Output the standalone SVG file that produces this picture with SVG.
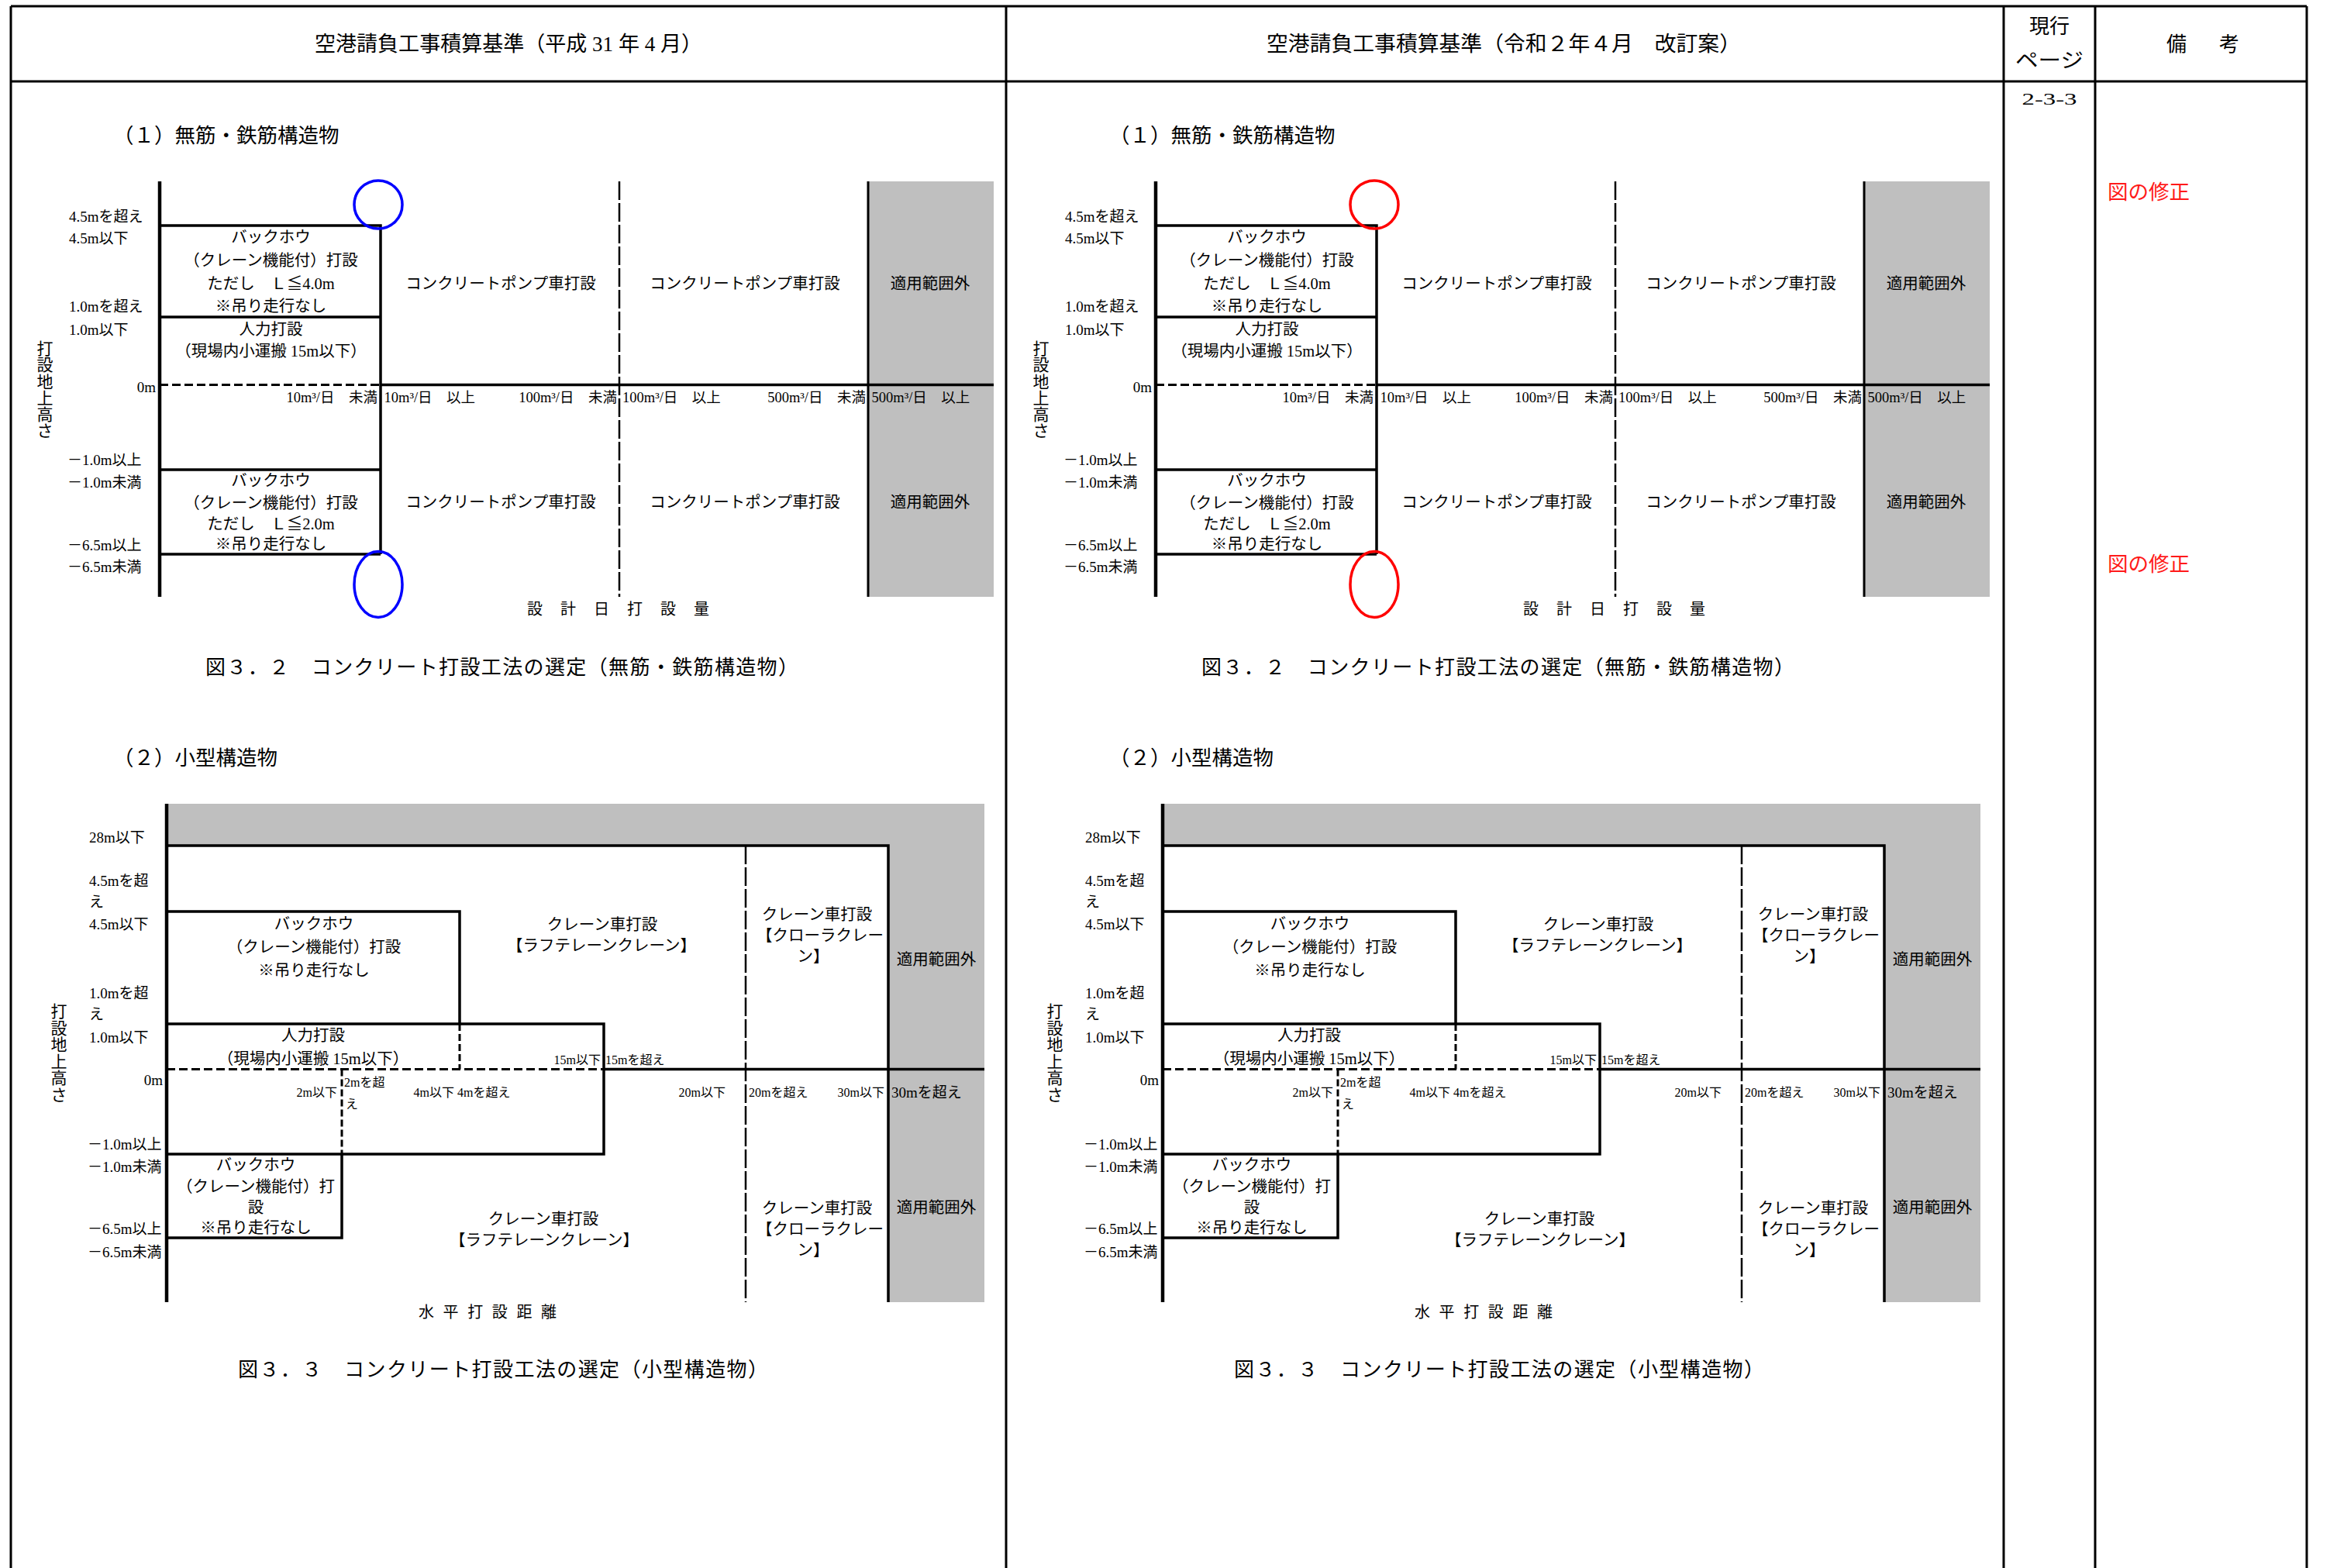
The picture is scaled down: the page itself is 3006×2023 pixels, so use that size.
<svg xmlns="http://www.w3.org/2000/svg" width="3006" height="2023" viewBox="0 0 3006 2023">
<style>
.t{font-family:"Liberation Serif","Noto Sans CJK JP",serif;fill:#000;dominant-baseline:central}
.c{text-anchor:middle}
.e{text-anchor:end}
.tb{stroke:#000;stroke-width:3;fill:none}
.ln{stroke:#000;stroke-width:3.5;fill:none}
.ax{stroke:#000;stroke-width:4.5;fill:none}
.dh{stroke:#000;stroke-width:3;stroke-dasharray:11 5;fill:none}
.dv{stroke:#000;stroke-width:2.5;stroke-dasharray:24 4;fill:none}
.ds{stroke:#000;stroke-width:3;stroke-dasharray:9 4;fill:none}
.gr{fill:#bfbfbf}
.lab{font-size:19px}
.box{font-size:20.5px}
.sm{font-size:18.5px}
.xs{font-size:16px}
.cap{font-size:26px}
.ttl{font-size:26.5px}
.red{fill:#ff1a1a}
.mk{fill:none;stroke-width:3.5}
</style>
<rect width="3006" height="2023" fill="#fff"/>
<g id="table">
<path class="tb" d="M14 8H2976M14 105H2976M14 8V2023M2976 8V2023M1298 8V2023M2585 8V2023M2703 8V2023"/>
<text class="t c" x="656" y="57" font-size="27" textLength="500" lengthAdjust="spacingAndGlyphs">空港請負工事積算基準（平成 31 年 4 月）</text>
<text class="t c" x="1940" y="57" font-size="27" textLength="612" lengthAdjust="spacingAndGlyphs">空港請負工事積算基準（令和２年４月　改訂案）</text>
<text class="t c" x="2644" y="34" font-size="26">現行</text>
<text class="t c" x="2644" y="78" font-size="26" textLength="88" lengthAdjust="spacingAndGlyphs">ページ</text>
<text class="t" x="2795" y="57" font-size="26" letter-spacing="8">備　考</text>
<text class="t c" x="2644" y="127" font-size="22" textLength="71" lengthAdjust="spacingAndGlyphs">2-3-3</text>
<text class="t red" x="2719" y="248" font-size="26.5">図の修正</text>
<text class="t red" x="2719" y="728" font-size="26.5">図の修正</text>
</g>

<g id="fig1-old">
<text class="t ttl" x="146" y="175">（１）無筋・鉄筋構造物</text>
<rect class="gr" x="1120" y="234" width="162" height="536"/>
<g id="fig1-old-lines">
<line class="ax" x1="206" y1="234" x2="206" y2="770"/>
<path class="ln" d="M206 291H491V715M206 409H491M206 606H491M206 715H491M491 496.5H1282"/>
<line class="dh" x1="206" y1="496.5" x2="491" y2="496.5"/>
<line class="dv" x1="799" y1="234" x2="799" y2="770"/>
<line class="tb" x1="1120" y1="234" x2="1120" y2="770"/>
</g>
<g id="fig1-old-axis">
<text class="t lab" x="89" y="279">4.5mを超え</text>
<text class="t lab" x="89" y="307">4.5m以下</text>
<text class="t lab" x="89" y="395">1.0mを超え</text>
<text class="t lab" x="89" y="425">1.0m以下</text>
<text class="t lab e" x="201" y="499">0m</text>
<text class="t lab" x="87" y="593">－1.0m以上</text>
<text class="t lab" x="87" y="622">－1.0m未満</text>
<text class="t lab" x="87" y="703">－6.5m以上</text>
<text class="t lab" x="87" y="731">－6.5m未満</text>
<text class="t c" font-size="21"><tspan x="58" y="450">打</tspan><tspan x="58" y="471">設</tspan><tspan x="58" y="492.5">地</tspan><tspan x="58" y="514">上</tspan><tspan x="58" y="535">高</tspan><tspan x="58" y="556">さ</tspan></text>
</g>
<g id="fig1-old-cells">
<text class="t box c" x="349.5" y="306">バックホウ</text>
<text class="t box c" x="349.5" y="336">（クレーン機能付）打設</text>
<text class="t box c" x="349.5" y="365.5">ただし　Ｌ≦4.0m</text>
<text class="t box c" x="349.5" y="395">※吊り走行なし</text>
<text class="t box c" x="349.5" y="425">人力打設</text>
<text class="t box c" x="349.5" y="453">（現場内小運搬 15m以下）</text>
<text class="t box c" x="349.5" y="620">バックホウ</text>
<text class="t box c" x="349.5" y="649">（クレーン機能付）打設</text>
<text class="t box c" x="349.5" y="675.5">ただし　Ｌ≦2.0m</text>
<text class="t box c" x="349.5" y="702">※吊り走行なし</text>
<text class="t box c" x="646" y="365.5">コンクリートポンプ車打設</text>
<text class="t box c" x="646" y="648">コンクリートポンプ車打設</text>
<text class="t box c" x="961" y="365.5">コンクリートポンプ車打設</text>
<text class="t box c" x="961" y="648">コンクリートポンプ車打設</text>
<text class="t box c" x="1200" y="365.5">適用範囲外</text>
<text class="t box c" x="1200" y="648">適用範囲外</text>
</g>
<g id="fig1-old-scale">
<text class="t sm e" x="487" y="513">10m³/日　未満</text>
<text class="t sm" x="495.5" y="513">10m³/日　以上</text>
<text class="t sm e" x="796" y="513">100m³/日　未満</text>
<text class="t sm" x="803" y="513">100m³/日　以上</text>
<text class="t sm e" x="1117" y="513">500m³/日　未満</text>
<text class="t sm" x="1124.5" y="513">500m³/日　以上</text>
<text class="t" x="680" y="786" font-size="20" letter-spacing="23">設計日打設量</text>
</g>
<ellipse class="mk" cx="488" cy="264" rx="31" ry="31" stroke="#0000ff"/>
<ellipse class="mk" cx="488" cy="754" rx="31" ry="42.5" stroke="#0000ff"/>
<text class="t cap" x="265" y="861" textLength="765" lengthAdjust="spacing">図３．２　コンクリート打設工法の選定（無筋・鉄筋構造物）</text>
</g>

<g id="fig2-old">
<text class="t ttl" x="146" y="978">（２）小型構造物</text>
<rect class="gr" x="215" y="1037" width="1055" height="54"/>
<rect class="gr" x="1146" y="1037" width="124" height="643"/>
<g id="fig2-old-lines">
<line class="ax" x1="215" y1="1037" x2="215" y2="1680"/>
<path class="ln" d="M215 1091H1146V1680M215 1176H593V1321M215 1321H779V1489H215M779 1379.5H1270M441 1489V1597H215"/>
<line class="dh" x1="215" y1="1379.5" x2="779" y2="1379.5"/>
<line class="ds" x1="593" y1="1321" x2="593" y2="1379.5"/>
<line class="ds" x1="441" y1="1379.5" x2="441" y2="1489"/>
<line class="dv" x1="962" y1="1091" x2="962" y2="1680"/>
</g>
<g id="fig2-old-axis">
<text class="t lab" x="115" y="1080">28m以下</text>
<text class="t lab" x="115" y="1136.5">4.5mを超</text>
<text class="t lab" x="115" y="1163">え</text>
<text class="t lab" x="115" y="1192">4.5m以下</text>
<text class="t lab" x="115" y="1281">1.0mを超</text>
<text class="t lab" x="115" y="1308.5">え</text>
<text class="t lab" x="115" y="1338">1.0m以下</text>
<text class="t lab e" x="210" y="1393.5">0m</text>
<text class="t lab" x="113" y="1476">－1.0m以上</text>
<text class="t lab" x="113" y="1505">－1.0m未満</text>
<text class="t lab" x="113" y="1585">－6.5m以上</text>
<text class="t lab" x="113" y="1615">－6.5m未満</text>
<text class="t c" font-size="21"><tspan x="76" y="1305">打</tspan><tspan x="76" y="1326.5">設</tspan><tspan x="76" y="1348">地</tspan><tspan x="76" y="1369.5">上</tspan><tspan x="76" y="1391">高</tspan><tspan x="76" y="1412.5">さ</tspan></text>
</g>
<g id="fig2-old-cells">
<text class="t box c" x="405" y="1192">バックホウ</text>
<text class="t box c" x="405" y="1222">（クレーン機能付）打設</text>
<text class="t box c" x="405" y="1251.5">※吊り走行なし</text>
<text class="t box c" x="404" y="1336">人力打設</text>
<text class="t box c" x="404" y="1365.5">（現場内小運搬 15m以下）</text>
<text class="t box c" x="330" y="1502.5">バックホウ</text>
<text class="t box c" x="330" y="1530.5">（クレーン機能付）打</text>
<text class="t box c" x="330" y="1558">設</text>
<text class="t box c" x="330" y="1584">※吊り走行なし</text>
<text class="t box c" x="777" y="1193">クレーン車打設</text>
<text class="t box c" x="776" y="1220">【ラフテレーンクレーン】</text>
<text class="t box c" x="701" y="1573">クレーン車打設</text>
<text class="t box c" x="702" y="1599.5">【ラフテレーンクレーン】</text>
<text class="t box c" x="1054" y="1180">クレーン車打設</text>
<text class="t box c" x="1058" y="1207">【クローラクレー</text>
<text class="t box c" x="1049" y="1233.5">ン】</text>
<text class="t box c" x="1054" y="1559">クレーン車打設</text>
<text class="t box c" x="1058" y="1586">【クローラクレー</text>
<text class="t box c" x="1049" y="1612.5">ン】</text>
<text class="t box c" x="1208" y="1237.5">適用範囲外</text>
<text class="t box c" x="1208" y="1558">適用範囲外</text>
</g>
<g id="fig2-old-scale">
<text class="t xs e" x="435" y="1409.5">2m以下</text>
<text class="t xs" x="444" y="1396">2mを超</text>
<text class="t xs" x="446" y="1424">え</text>
<text class="t xs" x="533.5" y="1409.5">4m以下 4mを超え</text>
<text class="t xs e" x="775" y="1367">15m以下</text>
<text class="t xs" x="781" y="1367">15mを超え</text>
<text class="t xs e" x="936" y="1409.5">20m以下</text>
<text class="t xs" x="966" y="1409.5">20mを超え</text>
<text class="t xs e" x="1141" y="1409.5">30m以下</text>
<text class="t lab" x="1150" y="1409.5">30mを超え</text>
<text class="t" x="540" y="1693" font-size="20" letter-spacing="11.6">水平打設距離</text>
</g>
<text class="t cap" x="307" y="1767.5" textLength="684" lengthAdjust="spacing">図３．３　コンクリート打設工法の選定（小型構造物）</text>
</g>

<g id="fig1-new" transform="translate(1285,0)">
<text class="t ttl" x="146" y="175">（１）無筋・鉄筋構造物</text>
<rect class="gr" x="1120" y="234" width="162" height="536"/>
<g id="fig1-new-lines">
<line class="ax" x1="206" y1="234" x2="206" y2="770"/>
<path class="ln" d="M206 291H491V715M206 409H491M206 606H491M206 715H491M491 496.5H1282"/>
<line class="dh" x1="206" y1="496.5" x2="491" y2="496.5"/>
<line class="dv" x1="799" y1="234" x2="799" y2="770"/>
<line class="tb" x1="1120" y1="234" x2="1120" y2="770"/>
</g>
<g id="fig1-new-axis">
<text class="t lab" x="89" y="279">4.5mを超え</text>
<text class="t lab" x="89" y="307">4.5m以下</text>
<text class="t lab" x="89" y="395">1.0mを超え</text>
<text class="t lab" x="89" y="425">1.0m以下</text>
<text class="t lab e" x="201" y="499">0m</text>
<text class="t lab" x="87" y="593">－1.0m以上</text>
<text class="t lab" x="87" y="622">－1.0m未満</text>
<text class="t lab" x="87" y="703">－6.5m以上</text>
<text class="t lab" x="87" y="731">－6.5m未満</text>
<text class="t c" font-size="21"><tspan x="58" y="450">打</tspan><tspan x="58" y="471">設</tspan><tspan x="58" y="492.5">地</tspan><tspan x="58" y="514">上</tspan><tspan x="58" y="535">高</tspan><tspan x="58" y="556">さ</tspan></text>
</g>
<g id="fig1-new-cells">
<text class="t box c" x="349.5" y="306">バックホウ</text>
<text class="t box c" x="349.5" y="336">（クレーン機能付）打設</text>
<text class="t box c" x="349.5" y="365.5">ただし　Ｌ≦4.0m</text>
<text class="t box c" x="349.5" y="395">※吊り走行なし</text>
<text class="t box c" x="349.5" y="425">人力打設</text>
<text class="t box c" x="349.5" y="453">（現場内小運搬 15m以下）</text>
<text class="t box c" x="349.5" y="620">バックホウ</text>
<text class="t box c" x="349.5" y="649">（クレーン機能付）打設</text>
<text class="t box c" x="349.5" y="675.5">ただし　Ｌ≦2.0m</text>
<text class="t box c" x="349.5" y="702">※吊り走行なし</text>
<text class="t box c" x="646" y="365.5">コンクリートポンプ車打設</text>
<text class="t box c" x="646" y="648">コンクリートポンプ車打設</text>
<text class="t box c" x="961" y="365.5">コンクリートポンプ車打設</text>
<text class="t box c" x="961" y="648">コンクリートポンプ車打設</text>
<text class="t box c" x="1200" y="365.5">適用範囲外</text>
<text class="t box c" x="1200" y="648">適用範囲外</text>
</g>
<g id="fig1-new-scale">
<text class="t sm e" x="487" y="513">10m³/日　未満</text>
<text class="t sm" x="495.5" y="513">10m³/日　以上</text>
<text class="t sm e" x="796" y="513">100m³/日　未満</text>
<text class="t sm" x="803" y="513">100m³/日　以上</text>
<text class="t sm e" x="1117" y="513">500m³/日　未満</text>
<text class="t sm" x="1124.5" y="513">500m³/日　以上</text>
<text class="t" x="680" y="786" font-size="20" letter-spacing="23">設計日打設量</text>
</g>
<ellipse class="mk" cx="488" cy="264" rx="31" ry="31" stroke="#ff0000"/>
<ellipse class="mk" cx="488" cy="754" rx="31" ry="42.5" stroke="#ff0000"/>
<text class="t cap" x="265" y="861" textLength="765" lengthAdjust="spacing">図３．２　コンクリート打設工法の選定（無筋・鉄筋構造物）</text>
</g>

<g id="fig2-new" transform="translate(1285,0)">
<text class="t ttl" x="146" y="978">（２）小型構造物</text>
<rect class="gr" x="215" y="1037" width="1055" height="54"/>
<rect class="gr" x="1146" y="1037" width="124" height="643"/>
<g id="fig2-new-lines">
<line class="ax" x1="215" y1="1037" x2="215" y2="1680"/>
<path class="ln" d="M215 1091H1146V1680M215 1176H593V1321M215 1321H779V1489H215M779 1379.5H1270M441 1489V1597H215"/>
<line class="dh" x1="215" y1="1379.5" x2="779" y2="1379.5"/>
<line class="ds" x1="593" y1="1321" x2="593" y2="1379.5"/>
<line class="ds" x1="441" y1="1379.5" x2="441" y2="1489"/>
<line class="dv" x1="962" y1="1091" x2="962" y2="1680"/>
</g>
<g id="fig2-new-axis">
<text class="t lab" x="115" y="1080">28m以下</text>
<text class="t lab" x="115" y="1136.5">4.5mを超</text>
<text class="t lab" x="115" y="1163">え</text>
<text class="t lab" x="115" y="1192">4.5m以下</text>
<text class="t lab" x="115" y="1281">1.0mを超</text>
<text class="t lab" x="115" y="1308.5">え</text>
<text class="t lab" x="115" y="1338">1.0m以下</text>
<text class="t lab e" x="210" y="1393.5">0m</text>
<text class="t lab" x="113" y="1476">－1.0m以上</text>
<text class="t lab" x="113" y="1505">－1.0m未満</text>
<text class="t lab" x="113" y="1585">－6.5m以上</text>
<text class="t lab" x="113" y="1615">－6.5m未満</text>
<text class="t c" font-size="21"><tspan x="76" y="1305">打</tspan><tspan x="76" y="1326.5">設</tspan><tspan x="76" y="1348">地</tspan><tspan x="76" y="1369.5">上</tspan><tspan x="76" y="1391">高</tspan><tspan x="76" y="1412.5">さ</tspan></text>
</g>
<g id="fig2-new-cells">
<text class="t box c" x="405" y="1192">バックホウ</text>
<text class="t box c" x="405" y="1222">（クレーン機能付）打設</text>
<text class="t box c" x="405" y="1251.5">※吊り走行なし</text>
<text class="t box c" x="404" y="1336">人力打設</text>
<text class="t box c" x="404" y="1365.5">（現場内小運搬 15m以下）</text>
<text class="t box c" x="330" y="1502.5">バックホウ</text>
<text class="t box c" x="330" y="1530.5">（クレーン機能付）打</text>
<text class="t box c" x="330" y="1558">設</text>
<text class="t box c" x="330" y="1584">※吊り走行なし</text>
<text class="t box c" x="777" y="1193">クレーン車打設</text>
<text class="t box c" x="776" y="1220">【ラフテレーンクレーン】</text>
<text class="t box c" x="701" y="1573">クレーン車打設</text>
<text class="t box c" x="702" y="1599.5">【ラフテレーンクレーン】</text>
<text class="t box c" x="1054" y="1180">クレーン車打設</text>
<text class="t box c" x="1058" y="1207">【クローラクレー</text>
<text class="t box c" x="1049" y="1233.5">ン】</text>
<text class="t box c" x="1054" y="1559">クレーン車打設</text>
<text class="t box c" x="1058" y="1586">【クローラクレー</text>
<text class="t box c" x="1049" y="1612.5">ン】</text>
<text class="t box c" x="1208" y="1237.5">適用範囲外</text>
<text class="t box c" x="1208" y="1558">適用範囲外</text>
</g>
<g id="fig2-new-scale">
<text class="t xs e" x="435" y="1409.5">2m以下</text>
<text class="t xs" x="444" y="1396">2mを超</text>
<text class="t xs" x="446" y="1424">え</text>
<text class="t xs" x="533.5" y="1409.5">4m以下 4mを超え</text>
<text class="t xs e" x="775" y="1367">15m以下</text>
<text class="t xs" x="781" y="1367">15mを超え</text>
<text class="t xs e" x="936" y="1409.5">20m以下</text>
<text class="t xs" x="966" y="1409.5">20mを超え</text>
<text class="t xs e" x="1141" y="1409.5">30m以下</text>
<text class="t lab" x="1150" y="1409.5">30mを超え</text>
<text class="t" x="540" y="1693" font-size="20" letter-spacing="11.6">水平打設距離</text>
</g>
<text class="t cap" x="307" y="1767.5" textLength="684" lengthAdjust="spacing">図３．３　コンクリート打設工法の選定（小型構造物）</text>
</g>
</svg>
